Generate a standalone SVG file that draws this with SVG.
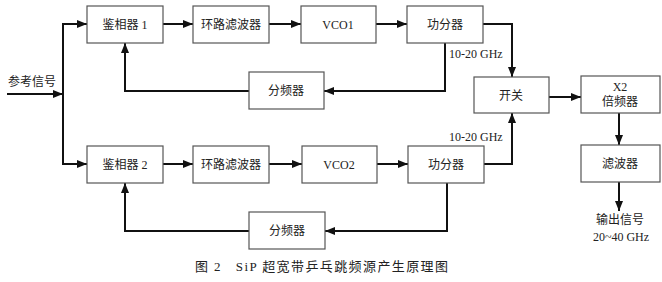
<svg xmlns="http://www.w3.org/2000/svg" width="662" height="282" viewBox="0 0 662 282">
<style>
.box{fill:#fff;stroke:#555;stroke-width:1.2}
.t{font-family:"Liberation Serif","Noto Sans CJK SC",serif;font-size:12px;fill:#222;text-anchor:middle}
.s{font-family:"Liberation Serif","Noto Sans CJK SC",serif;font-size:12px;fill:#222}
.ln{fill:none;stroke:#111;stroke-width:2}
</style>
<defs>
<marker id="ah" viewBox="0 0 10 8" refX="10" refY="4" markerWidth="10" markerHeight="8" markerUnits="userSpaceOnUse" orient="auto">
<path d="M0,0 L10,4 L0,8 Z" fill="#111"/>
</marker>
</defs>
<rect width="662" height="282" fill="#fff"/>
<g id="connectors">
<path class="ln" d="M7,94 H63" marker-end="url(#ah)"/>
<path class="ln" d="M63,164 V24 H87" marker-end="url(#ah)"/>
<path class="ln" d="M63,94 V164 H87" marker-end="url(#ah)"/>
<path class="ln" d="M163,24 H193" marker-end="url(#ah)"/>
<path class="ln" d="M269,24 H301" marker-end="url(#ah)"/>
<path class="ln" d="M376,24 H407" marker-end="url(#ah)"/>
<path class="ln" d="M445,43 V91 H324" marker-end="url(#ah)"/>
<path class="ln" d="M249,91 H125 V43" marker-end="url(#ah)"/>
<path class="ln" d="M483,24 H512 V77" marker-end="url(#ah)"/>
<path class="ln" d="M163,164 H193" marker-end="url(#ah)"/>
<path class="ln" d="M269,164 H302" marker-end="url(#ah)"/>
<path class="ln" d="M377,164 H408" marker-end="url(#ah)"/>
<path class="ln" d="M447,183 V231 H325" marker-end="url(#ah)"/>
<path class="ln" d="M249,231 H125 V183" marker-end="url(#ah)"/>
<path class="ln" d="M484,164 H512 V113" marker-end="url(#ah)"/>
<path class="ln" d="M549,97 H581" marker-end="url(#ah)"/>
<path class="ln" d="M619,113 V145" marker-end="url(#ah)"/>
<path class="ln" d="M619,182 V211" marker-end="url(#ah)"/>
</g>
<g id="pd1"><rect class="box" x="87" y="6" width="76" height="37"/><text class="t" x="125" y="29">鉴相器 1</text></g>
<g id="lf1"><rect class="box" x="193" y="6" width="76" height="37"/><text class="t" x="231" y="29">环路滤波器</text></g>
<g id="vco1"><rect class="box" x="301" y="6" width="75" height="37"/><text class="t" x="338" y="29">VCO1</text></g>
<g id="ps1"><rect class="box" x="407" y="6" width="76" height="37"/><text class="t" x="445" y="29">功分器</text></g>
<g id="div1"><rect class="box" x="249" y="72" width="75" height="37"/><text class="t" x="286" y="95">分频器</text></g>
<g id="pd2"><rect class="box" x="87" y="146" width="76" height="37"/><text class="t" x="125" y="169">鉴相器 2</text></g>
<g id="lf2"><rect class="box" x="193" y="146" width="76" height="37"/><text class="t" x="231" y="169">环路滤波器</text></g>
<g id="vco2"><rect class="box" x="302" y="146" width="75" height="37"/><text class="t" x="339" y="169">VCO2</text></g>
<g id="ps2"><rect class="box" x="408" y="146" width="76" height="37"/><text class="t" x="446" y="169">功分器</text></g>
<g id="div2"><rect class="box" x="249" y="212" width="76" height="37"/><text class="t" x="287" y="235">分频器</text></g>
<g id="sw"><rect class="box" x="474" y="77" width="75" height="36"/><text class="t" x="511" y="100">开关</text></g>
<g id="x2"><rect class="box" x="581" y="76" width="79" height="37"/><text class="t" x="620" y="91">X2</text><text class="t" x="620" y="106">倍频器</text></g>
<g id="flt"><rect class="box" x="581" y="145" width="79" height="37"/><text class="t" x="620" y="168">滤波器</text></g>
<g id="labels">
<text class="t" x="32" y="86">参考信号</text>
<text class="s" x="449" y="58">10-20 GHz</text>
<text class="s" x="449" y="141">10-20 GHz</text>
<text class="t" x="620" y="224">输出信号</text>
<text class="s" x="621" y="241" text-anchor="middle">20~40 GHz</text>
<text class="t" x="195" y="271" xml:space="preserve" style="font-size:13px;text-anchor:start" textLength="253" lengthAdjust="spacing">图 2   SiP 超宽带乒乓跳频源产生原理图</text>
</g>
</svg>
